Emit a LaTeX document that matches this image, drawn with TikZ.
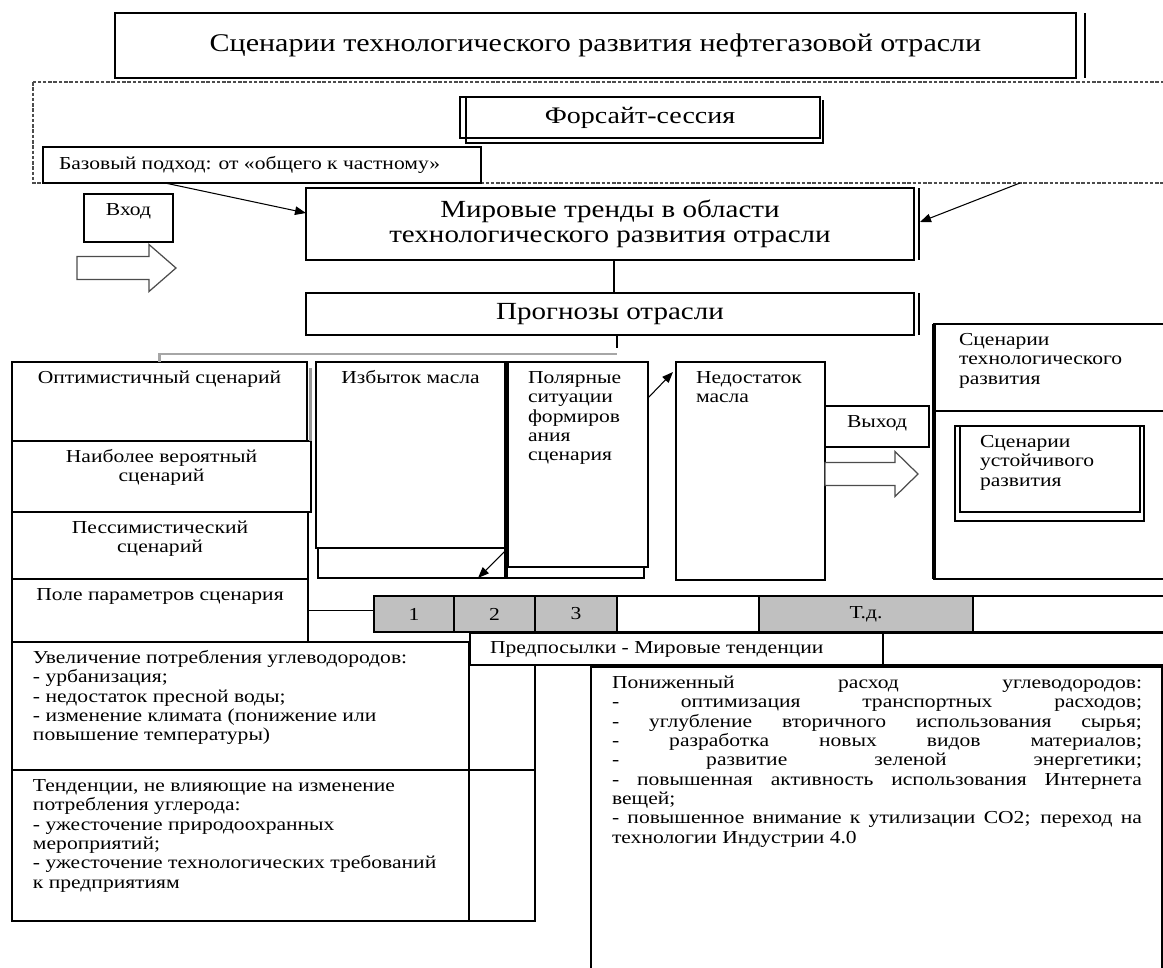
\documentclass[tikz,border=0pt]{standalone}
\usepackage{fontspec}
\setmainfont{Liberation Serif}[FakeStretch=1.18]
\usetikzlibrary{arrows.meta}
\definecolor{cellgray}{HTML}{C0C0C0}

\newlength{\pxu}
\setlength{\pxu}{0.2mm}
% box contents: text at the top / in the middle
\newcommand{\topcell}[4]{\parbox[c][#2\pxu][t]{#1\pxu}{#3\vspace*{4.5pt}\strut#4}}
\newcommand{\midcell}[3]{\parbox[c][#2\pxu][c]{#1\pxu}{#3\leavevmode}}

\begin{document}
\begin{tikzpicture}[x=0.2mm,y=-0.2mm,line width=0.8pt,font=\fontsize{10.4}{11}\selectfont]
   \useasboundingbox (0,0) rectangle (1163,968);
   \tikzstyle{box}=[draw=black, inner sep=0pt, outer sep=0pt, anchor=north west, fill=white]
   \tikzstyle{conn}=[-{Triangle[length=2.2mm,width=1.7mm]}, line width=0.6pt]
   \tikzstyle{hollow}=[draw=black!70, line width=0.7pt, fill=white]
   \tikzstyle{thickedge}=[line width=2.2pt]

   % head
   \node[box] (title) at (115,13) {\midcell{961}{65}{\centering\fontsize{14.5}{17}\selectfont Сценарии технологического развития нефтегазовой отрасли}};
   \draw ([xshift=1.8mm]title.north east) -- ([xshift=1.8mm]title.south east);
   \draw[dash pattern=on 2pt off 1pt, black!70, line width=0.6pt] (33,82) rectangle (1175,183);
   \node[box] (fors) at (460,97) {\midcell{360}{41}{\centering\fontsize{13.5}{16}\selectfont Форсайт-сессия}};
   \draw[line width=0.6pt] ([xshift=1.2mm]fors.north west) |- ([xshift=0.6mm,yshift=-1mm]fors.south east) -- ([xshift=0.6mm,yshift=-0.6mm]fors.north east);
   \node[box] (base) at (43,147) {\midcell{438}{36}{\leftskip=16\pxu\relax\fontsize{10.4}{11}\selectfont Базовый подход: от «общего к частному»}};
   \coordinate (dashend) at (1020,183);

   % input
   \node[box] (vhod) at (84,194) {\topcell{89}{48}{\centering}{Вход}};
   \coordinate (vhodarr) at (77,268);
   \draw[hollow] (vhodarr) ++(0,-11.5) -- ++(72,0) -- ++(0,-12) -- ++(27,23.5) -- ++(-27,23.5) -- ++(0,-12) -- ++(-72,0) -- cycle;

   \node[box] (mir) at (306,188) {\midcell{608}{72}{\centering\fontsize{14}{14.2}\selectfont Мировые тренды в области\\технологического развития отрасли}};
   \draw ([xshift=1mm]mir.north east) -- ([xshift=1mm]mir.south east);
   \node[box] (prog) at (306,293) {\midcell{608}{42}{\centering\fontsize{14}{16}\selectfont Прогнозы отрасли}};
   \draw ([xshift=1mm]prog.north east) -- ([xshift=1mm]prog.south east);
   \draw[conn] ([xshift=24.4mm]base.south west) -- ([yshift=2.2mm]mir.west);
   \draw[conn] (dashend) -- ([xshift=1.2mm,yshift=0.4mm]mir.east);
   \draw[line width=1.2pt] ([xshift=0.8mm]mir.south) -- ([xshift=0.8mm]prog.north);

   % scenarios
   \node[box] (opt) at (12,362) {\topcell{295}{79}{\centering}{Оптимистичный сценарий}};
   \node[box] (prob) at (12,441) {\topcell{299}{71}{\centering}{Наиболее вероятный\\сценарий}};
   \node[box] (pess) at (12,512) {\topcell{296}{67}{\centering}{Пессимистический\\сценарий}};
   \node[box] (field) at (12,579) {\topcell{296}{63}{\centering}{Поле параметров сценария}};
   \draw[gray!80, line width=1.4pt] ([xshift=0.7mm,yshift=-1.2mm]opt.north east) -- ([xshift=0.7mm]opt.south east);
   \draw ([xshift=1.4mm]prog.south) -- ++(0,13);
   \draw[gray!70, line width=1.4pt] (opt.north) |- ([xshift=1.4mm,yshift=-3.8mm]prog.south);

   \node[box] (izblow) at (318,548) {\midcell{187}{30}{}};
   \node[box] (izb) at (316,362) {\topcell{189}{186}{\centering}{Избыток масла}};
   \node[box] (pollow) at (507,567) {\midcell{137}{11}{}};
   \node[box] (pol) at (507,362) {\topcell{141}{205}{\raggedright\leftskip=21\pxu\relax}{Полярные\\ситуации\\формиров\\ания\\сценария}};
   \draw[thickedge] (pol.north west) -- (pol.south west);
   \node[box] (ned) at (676,362) {\topcell{149}{218}{\raggedright\leftskip=20\pxu\relax}{Недостаток\\масла}};
   \draw[conn] ([yshift=3.6mm]pol.south west) -- ([xshift=-5.4mm]izblow.south east);
   \draw[conn] ([yshift=-7.2mm]pol.north east) -- ([xshift=-0.6mm,yshift=-2mm]ned.north west);

   % output
   \node[box] (vyh) at (825,406) {\topcell{104}{41}{\centering}{Выход}};
   \coordinate (vyharr) at (825,474);
   \draw[hollow] (vyharr) ++(0,-11.5) -- ++(70,0) -- ++(0,-11) -- ++(23,22.5) -- ++(-23,22.5) -- ++(0,-11) -- ++(-70,0) -- cycle;
   \node[box] (scentop) at (934,324) {\topcell{240}{87}{\raggedright\leftskip=25\pxu\relax}{Сценарии\\технологического\\развития}};
   \node[box] (scenbot) at (934,411) {\midcell{240}{168}{}};
   \draw[thickedge] (scentop.north west) -- (scenbot.south west);
   \node[box] (sustout) at (955,426) {\midcell{189}{95}{}};
   \node[box] (sust) at (960,426) {\topcell{180}{86}{\raggedright\leftskip=20\pxu\relax}{Сценарии\\устойчивого\\развития}};

   % parameter field
   \foreach \i/\x/\w/\fillc/\lbl in {1/374/80/cellgray/1, 2/454/81/cellgray/2, 3/535/82/cellgray/3, 4/617/142/white/{}, 5/759/214/cellgray/{Т.д.}, 6/973/200/white/{}} {
      \node[box, fill=\fillc] (c\i) at (\x,596) {\midcell{\w}{36}{\centering\lbl}};
   }
   \draw (field.east) -- (field.east -| c1.west);

   % trends
   \node[box] (prem) at (470,633) {\midcell{413}{32}{\leftskip=20\pxu\relax Предпосылки - Мировые тенденции}};
   \node[box] (premr) at (883,633) {\midcell{290}{32}{}};
   \node[box] (incr) at (12,642) {\topcell{457}{128}{\raggedright\leftskip=21\pxu\relax}{Увеличение потребления углеводородов:\\- урбанизация;\\- недостаток пресной воды;\\- изменение климата (понижение или\\повышение температуры)}};
   \node[box] (tend) at (12,770) {\topcell{457}{151}{\raggedright\leftskip=21\pxu\relax}{Тенденции, не влияющие на изменение\\потребления углерода:\\- ужесточение природоохранных\\мероприятий;\\- ужесточение технологических требований\\к предприятиям}};
   \node[box] (nar1) at (469,665) {\midcell{66}{105}{}};
   \node[box] (nar2) at (469,770) {\midcell{66}{151}{}};
   \node[box] (lower) at (591,667) {\topcell{571}{320}{\leftskip=21\pxu\rightskip=20\pxu\relax}{Пониженный расход углеводородов:\linebreak
      - оптимизация транспортных расходов;\linebreak
      - углубление вторичного использования сырья;\linebreak
      - разработка новых видов материалов;\linebreak
      - развитие зеленой энергетики;\linebreak
      - повышенная активность использования Интернета\linebreak
      вещей;\\
      - повышенное внимание к утилизации СО2; переход на\linebreak
      технологии Индустрии 4.0}};
\end{tikzpicture}
\end{document}
